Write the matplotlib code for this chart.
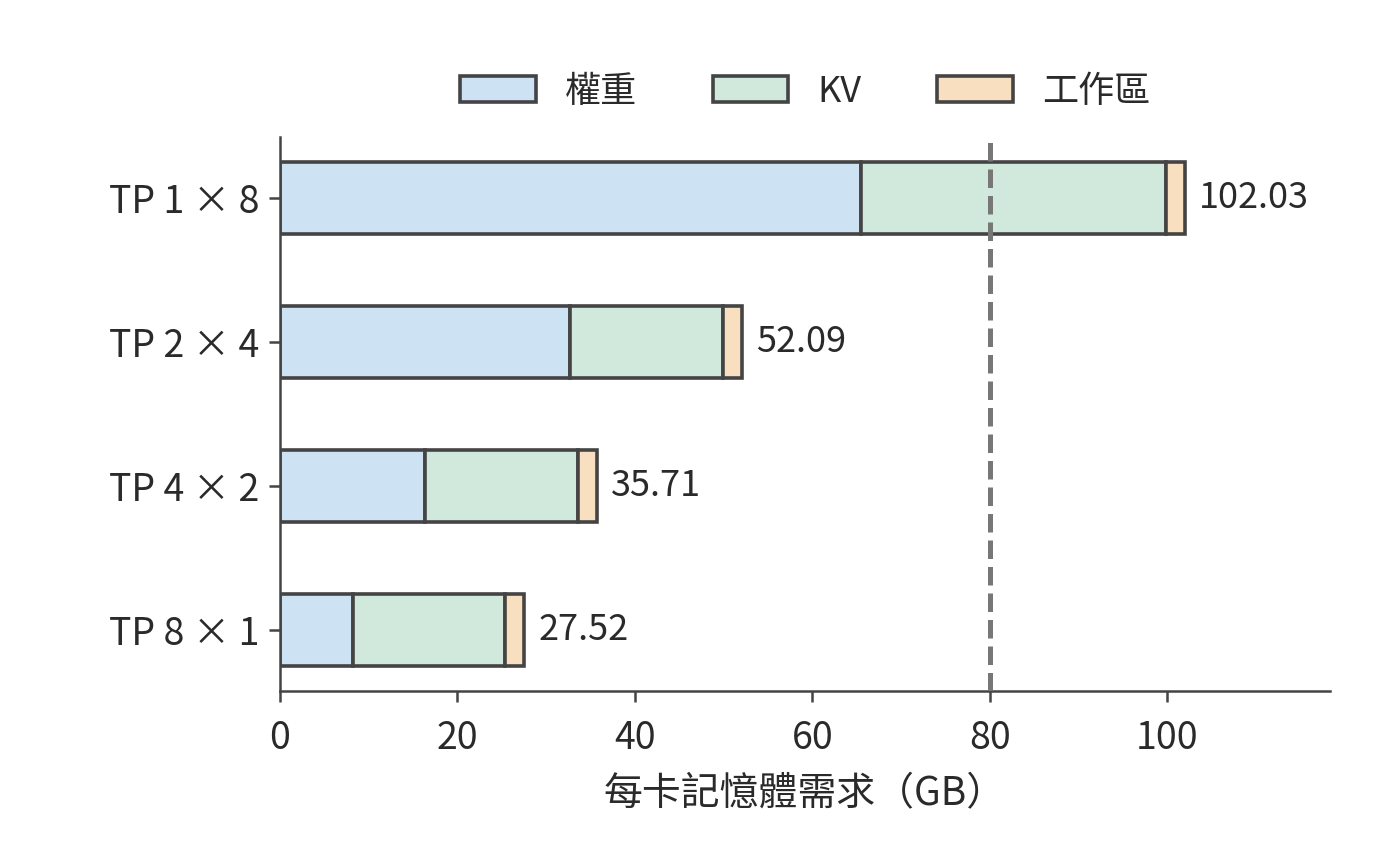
import matplotlib
matplotlib.use("Agg")
import matplotlib.pyplot as plt
import numpy as np

plt.rcParams['font.family'] = ['Noto Sans CJK TC', 'DejaVu Sans']

configs = ["TP 1 × 8", "TP 2 × 4", "TP 4 × 2", "TP 8 × 1"]
weights = [65.46, 32.73, 16.37, 8.18]
kv = [34.46, 17.23, 17.23, 17.23]
workspace = [2.11, 2.13, 2.11, 2.11]
totals = [102.03, 52.09, 35.71, 27.52]
limit_gb = 80

series_names = ["權重", "KV", "工作區"]
colors = ["#cde3f3", "#d1e8dc", "#f8dfc0"]
edge = "#444444"
text_color = "#2a2a2a"

fig, ax = plt.subplots(figsize=(7, 4.32), dpi=200)
fig.subplots_adjust(left=0.2, right=0.95, top=0.842, bottom=0.2)

y = np.arange(len(configs))[::-1]
left = np.zeros(len(configs))
for vals, name, c in zip([weights, kv, workspace], series_names, colors):
    ax.barh(y, vals, left=left, height=0.5, color=c, edgecolor=edge,
            linewidth=1.3, label=name)
    left = left + np.array(vals)

for yi, t in zip(y, totals):
    ax.text(t + 1.6, yi, f"{t:.2f}", va="center", ha="left",
            fontsize=13, color=text_color)

# 80 GB card limit
ax.axvline(limit_gb, color="#777777", linestyle="--", linewidth=1.8, zorder=3)

ax.set_yticks(y)
ax.set_yticklabels(configs)
ax.set_xlim(0, max(totals) * 1.16)
ax.set_xticks([0, 20, 40, 60, 80, 100])
ax.set_xlabel("每卡記憶體需求（GB）", fontsize=14, color=text_color, labelpad=6)
ax.tick_params(axis="both", labelsize=13.5, colors=edge, labelcolor=text_color,
               width=0.9, length=4)
ax.tick_params(axis="x", pad=6)

for s in ["top", "right"]:
    ax.spines[s].set_visible(False)
for s in ["left", "bottom"]:
    ax.spines[s].set_color(edge)
    ax.spines[s].set_linewidth(0.9)

ax.legend(loc="lower center", bbox_to_anchor=(0.5, 0.99), ncol=3, frameon=False,
          fontsize=13, handlelength=2.1, handleheight=0.7, columnspacing=2.1,
          handletextpad=0.8, labelcolor=text_color)

fig.savefig("out.png", dpi=200)
